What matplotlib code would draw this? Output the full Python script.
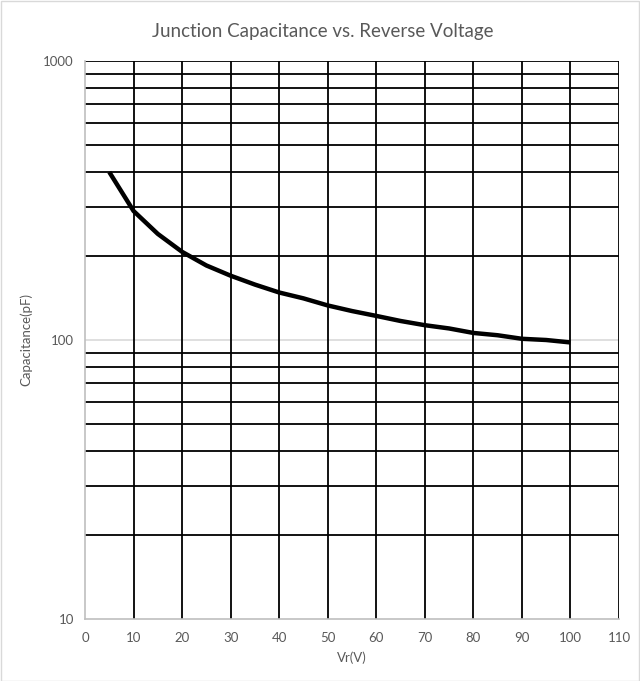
import matplotlib.pyplot as plt
from matplotlib.patches import Rectangle

# reverse voltage (V) and junction capacitance (pF)
vr = [5, 10, 15, 20, 25, 30, 35, 40, 45, 50, 55, 60, 65, 70, 75, 80, 85, 90, 95, 100]
cap = [400, 290, 240, 207, 185, 170, 158, 148, 141, 133, 127, 122, 117, 113, 110, 106, 104, 101, 100, 98]

x_ticks = list(range(0, 111, 10))
y_ticks = [10, 100, 1000]
minor_y = [20, 30, 40, 50, 60, 70, 80, 90, 200, 300, 400, 500, 600, 700, 800, 900, 1000]

plt.rcParams['font.family'] = ['Lato', 'DejaVu Sans']
gray = '#595959'

fig = plt.figure(figsize=(6.4, 6.81), dpi=100)
ax = fig.add_axes([85/640, 62/681, 534/640, 558/681])

ax.set_yscale('log')
ax.set_xlim(0, 110)
ax.set_ylim(10, 1000)

# grid lines
for v in minor_y:
    ax.axhline(v, color='black', lw=1.3, zorder=1)
ax.axhline(100, color='#d9d9d9', lw=1.2, zorder=1)
for v in x_ticks[1:]:
    ax.axvline(v, color='black', lw=1.3, zorder=1)

ax.plot(vr, cap, color='black', lw=3.2, zorder=3, solid_capstyle='butt')

ax.set_xticks(x_ticks)
ax.set_xticklabels([str(t) for t in x_ticks])
ax.set_yticks(y_ticks)
ax.set_yticklabels(['10', '100', '1000'])
ax.minorticks_off()
ax.tick_params(length=0, labelsize=9.5, colors=gray)
ax.tick_params(axis='x', pad=9)
ax.tick_params(axis='y', pad=8)

for s in ['top', 'right']:
    ax.spines[s].set_visible(False)
for s in ['left', 'bottom']:
    ax.spines[s].set_color('#bfbfbf')
    ax.spines[s].set_linewidth(1.2)

fig.text(323/640, 1 - 32/681, 'Junction Capacitance vs. Reverse Voltage',
         fontsize=13.5, color=gray, ha='center', va='center')
ax.set_xlabel('Vr(V)', fontsize=9.5, color=gray, labelpad=6)
ax.set_ylabel('Capacitance(pF)', fontsize=9.5, color=gray, labelpad=8)

fig.patches.append(Rectangle((0.5/640, 0.5/681), 1 - 1.5/640, 1 - 1.5/681,
                             transform=fig.transFigure, fill=False,
                             edgecolor='#d9d9d9', lw=1))

fig.savefig('out.png', dpi=100)
